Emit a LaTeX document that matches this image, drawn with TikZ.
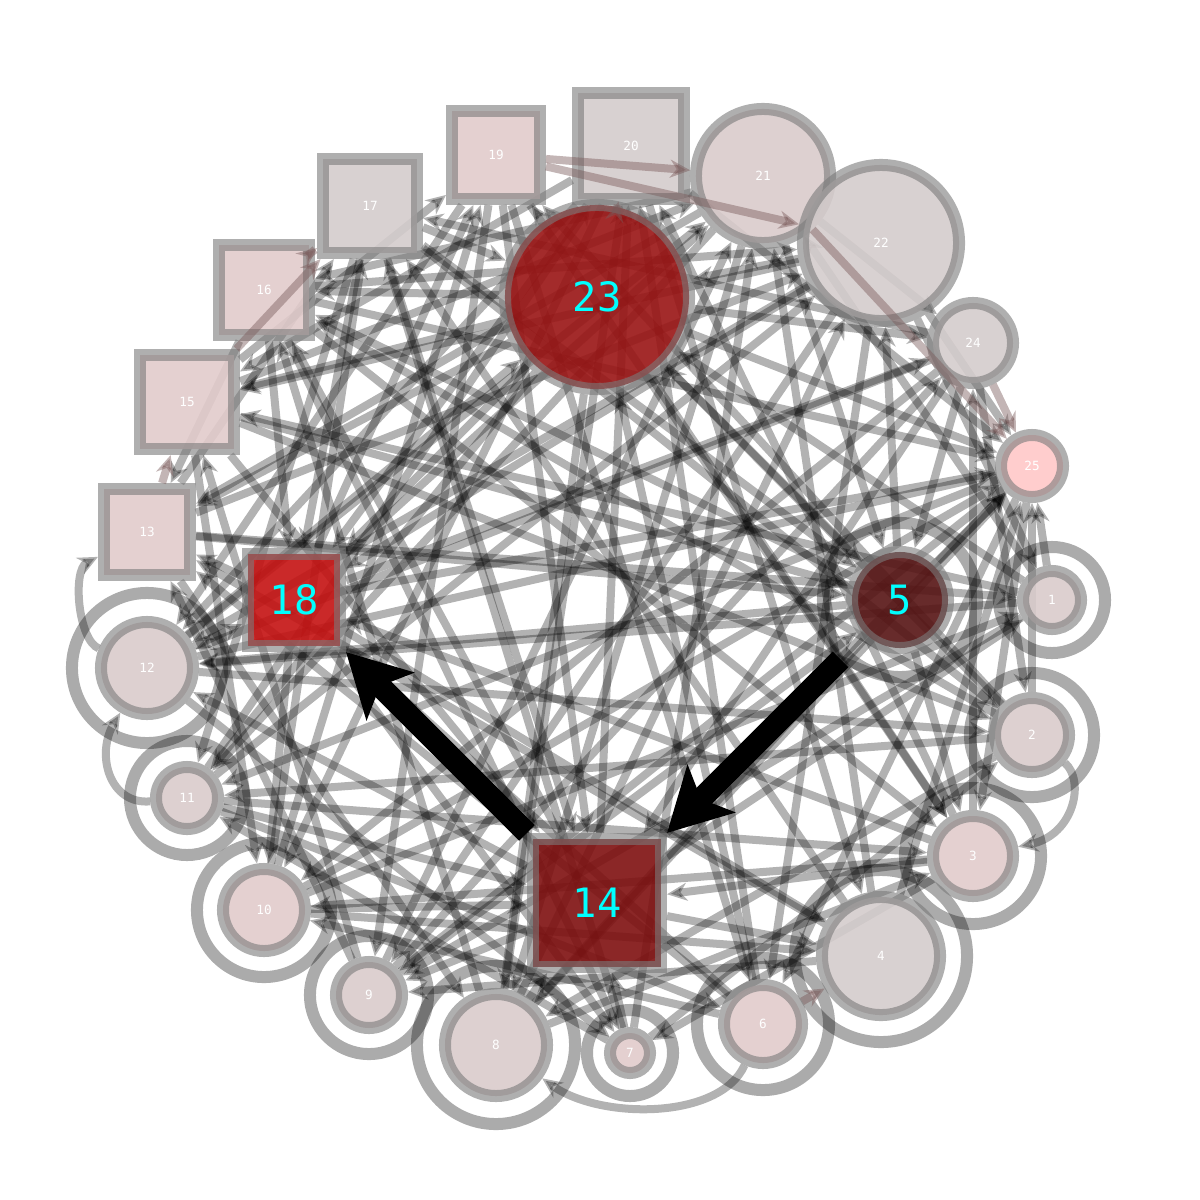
\documentclass[tikz,border=0pt]{standalone}
\usepackage{fontspec}
\newfontfamily\vlabelfont{DejaVu Sans Mono}
\usetikzlibrary{arrows.meta,backgrounds}
\definecolor{fillmauve}{HTML}{D9CBCB}
\definecolor{fillrose}{HTML}{E1CBCB}
\definecolor{fillgray}{HTML}{D4CCCC}
\definecolor{fillpink}{HTML}{FFC8C8}
\definecolor{hubdark}{HTML}{561414}
\definecolor{hubmaroon}{HTML}{7E1010}
\definecolor{hubcrimson}{HTML}{C41212}
\definecolor{hubred}{HTML}{991414}
\definecolor{rimgray}{HTML}{7A7A7A}
\definecolor{tintbrown}{HTML}{7A5A5A}
\definecolor{labelcyan}{HTML}{00FFFF}

\begin{document}
\begin{tikzpicture}[x=0.01cm,y=-0.01cm,
    vtx/.style={circle,draw=rimgray,draw opacity=0.6,line width=0.12cm,fill opacity=0.9,
      text=white,text opacity=1,inner sep=0pt,font=\vlabelfont\fontsize{3.6}{4}\selectfont},
    box/.style={vtx,rectangle},
    hub/.style={text=labelcyan,font=\vlabelfont\fontsize{11.5}{12}\selectfont},
    link/.style={draw=black,opacity=0.3,line width=0.08cm,-{Stealth[length=0.2cm,width=0.18cm]}},
    tint/.style={draw=tintbrown,opacity=0.45,line width=0.08cm,-{Stealth[length=0.2cm,width=0.18cm]}},
    loopring/.style={draw=black,opacity=0.33,line width=0.12cm},
    heavy/.style={draw=black,line width=0.22cm,-{Stealth[length=0.62cm,width=0.66cm,inset=0.14cm]}}]
    \useasboundingbox (0,0) rectangle (1200,1200);

    \node[vtx,fill=fillmauve,minimum size=0.58cm] (n1) at (1052,600) {1};
    \node[vtx,fill=fillmauve,minimum size=0.74cm] (n2) at (1032,735) {2};
    \node[vtx,fill=fillrose,minimum size=0.80cm] (n3) at (973,856) {3};
    \node[vtx,fill=fillgray,minimum size=1.18cm] (n4) at (881,956) {4};
    \node[vtx,hub,fill=hubdark,minimum size=0.96cm] (n5) at (900,600) {5};
    \node[vtx,fill=fillrose,minimum size=0.78cm] (n6) at (763,1024) {6};
    \node[vtx,fill=fillrose,minimum size=0.40cm] (n7) at (630,1053) {7};
    \node[vtx,fill=fillmauve,minimum size=1.02cm] (n8) at (496,1045) {8};
    \node[vtx,fill=fillmauve,minimum size=0.66cm] (n9) at (369,995) {9};
    \node[vtx,fill=fillrose,minimum size=0.82cm] (n10) at (264,910) {10};
    \node[vtx,fill=fillmauve,minimum size=0.62cm] (n11) at (187,798) {11};
    \node[vtx,fill=fillmauve,minimum size=0.92cm] (n12) at (147,668) {12};
    \node[box,fill=fillrose,minimum size=0.86cm] (n13) at (147,532) {13};
    \node[box,hub,fill=hubmaroon,minimum size=1.28cm] (n14) at (597,903) {14};
    \node[box,fill=fillrose,minimum size=0.94cm] (n15) at (187,402) {15};
    \node[box,fill=fillrose,minimum size=0.90cm] (n16) at (264,290) {16};
    \node[box,fill=fillgray,minimum size=0.94cm] (n17) at (370,206) {17};
    \node[box,hub,fill=hubcrimson,minimum size=0.92cm] (n18) at (294,600) {18};
    \node[box,fill=fillrose,minimum size=0.88cm] (n19) at (496,155) {19};
    \node[box,fill=fillgray,minimum size=1.06cm] (n20) at (631,146) {20};
    \node[vtx,fill=fillmauve,minimum size=1.34cm] (n21) at (763,176) {21};
    \node[vtx,fill=fillgray,minimum size=1.56cm] (n22) at (881,243) {22};
    \node[vtx,hub,fill=hubred,minimum size=1.84cm] (n23) at (597,297) {23};
    \node[vtx,fill=fillgray,minimum size=0.80cm] (n24) at (973,343) {24};
    \node[vtx,fill=fillpink,minimum size=0.62cm] (n25) at (1032,466) {25};

    \begin{pgfonlayer}{background}
    \draw[loopring] (n1.center) circle [radius=0.53cm];
    \draw[loopring] (n2.center) circle [radius=0.62cm];
    \draw[loopring] (n3.center) circle [radius=0.68cm];
    \draw[loopring] (n4.center) circle [radius=0.86cm];
    \draw[loopring] (n5.center) circle [radius=0.77cm];
    \draw[loopring] (n6.center) circle [radius=0.66cm];
    \draw[loopring] (n7.center) circle [radius=0.43cm];
    \draw[loopring] (n8.center) circle [radius=0.79cm];
    \draw[loopring] (n9.center) circle [radius=0.59cm];
    \draw[loopring] (n10.center) circle [radius=0.67cm];
    \draw[loopring] (n11.center) circle [radius=0.57cm];
    \draw[loopring] (n12.center) circle [radius=0.75cm];
    \begin{scope}[every edge/.style={link}]
    \path (n1) edge (n9) edge (n12) edge (n15) edge (n21) edge (n23) edge (n25);
    \path (n2) edge (n8) edge (n11) edge (n16) edge (n19) edge (n23) edge (n25);
    \path (n3) edge (n7) edge (n10) edge (n14) edge (n18) edge (n20) edge (n24);
    \path (n4) edge (n9) edge (n13) edge (n17) edge (n21) edge (n25);
    \path (n5) edge (n3) edge (n8) edge (n12) edge (n16) edge (n22) edge (n25);
    \path (n6) edge (n10) edge (n13) edge (n18) edge (n20) edge (n23);
    \path (n7) edge (n2) edge (n11) edge (n14) edge (n17) edge (n21);
    \path (n8) edge (n3) edge (n14) edge (n16) edge (n20) edge (n22) edge (n25);
    \path (n9) edge (n5) edge (n13) edge (n15) edge (n21) edge (n24);
    \path (n10) edge (n1) edge (n4) edge (n14) edge (n17) edge (n19) edge (n25);
    \path (n11) edge (n3) edge (n6) edge (n14) edge (n20) edge (n22);
    \path (n12) edge (n2) edge (n7) edge (n18) edge (n21) edge (n23) edge (n25);
    \path (n13) edge (n1) edge (n5) edge (n8) edge (n17) edge (n22);
    \path (n14) edge (n1) edge (n4) edge (n9) edge (n12) edge (n16) edge (n20) edge (n25);
    \path (n15) edge (n2) edge (n5) edge (n10) edge (n14) edge (n19) edge (n21);
    \path (n16) edge (n3) edge (n7) edge (n13) edge (n18) edge (n22) edge (n25);
    \path (n17) edge (n2) edge (n5) edge (n11) edge (n14) edge (n18) edge (n23);
    \path (n18) edge (n4) edge (n7) edge (n10) edge (n13) edge (n19) edge (n21) edge (n24) edge (n25);
    \path (n19) edge (n3) edge (n6) edge (n9) edge (n12) edge (n14);
    \path (n20) edge (n4) edge (n10) edge (n12) edge (n15) edge (n18) edge (n25);
    \path (n21) edge (n5) edge (n8) edge (n11) edge (n13) edge (n16) edge (n24);
    \path (n22) edge (n1) edge (n6) edge (n9) edge (n12) edge (n15) edge (n18) edge (n23) edge (n25);
    \path (n23) edge (n3) edge (n5) edge (n8) edge (n11) edge (n13) edge (n15) edge (n16) edge (n19) edge (n24) edge (n25) edge (n18);
    \path (n24) edge (n2) edge (n5) edge (n10) edge (n12) edge (n14) edge (n17);
    \path (n25) edge (n3) edge (n6) edge (n9) edge (n11);
    \end{scope}
    \draw[link] (n12) .. controls (78,640) and (72,570) .. (n13);
    \draw[link] (n11) .. controls (110,805) and (95,755) .. (n12);
    \draw[link] (n2) .. controls (1085,780) and (1075,835) .. (n3);
    \draw[link] (n6) .. controls (720,1120) and (600,1120) .. (n8);
    \end{pgfonlayer}

    \draw[tint] (n6) -- (n4);
    \draw[tint] (n13) -- (n15);
    \draw[tint] (n15) -- (n17);
    \draw[tint] (n16) -- (n17);
    \draw[tint] (n19) -- (n21);
    \draw[tint] (n19) -- (n22);
    \draw[tint] (n20) -- (n23);
    \draw[tint] (n21) -- (n25);
    \draw[tint] (n24) -- (n25);
    \draw[heavy,shorten <=0.3cm] (n5) -- (n14);
    \draw[heavy] (n14) -- (n18);
\end{tikzpicture}
\end{document}
